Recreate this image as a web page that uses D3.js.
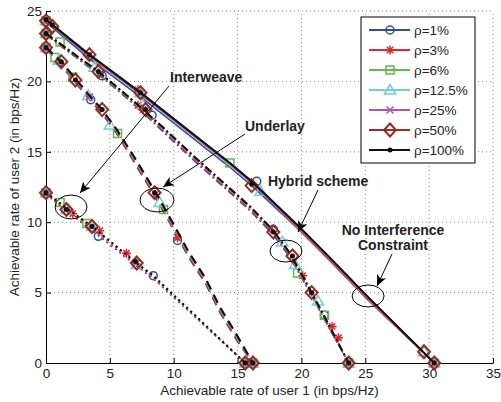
<!DOCTYPE html>
<html lang="en">
<head>
<meta charset="utf-8">
<title>Achievable rate region</title>
<script src="https://cdnjs.cloudflare.com/ajax/libs/d3/7.8.5/d3.min.js"></script>
<style>
    body { margin: 0; background: #fff; }
    svg { display: block; font-family: "Liberation Sans", Arial, sans-serif; }
    .grid line { stroke: #8a8a8a; stroke-width: 1; stroke-dasharray: 1,3; }
    .axis path, .axis line { stroke: #000; stroke-width: 1; }
    .axis text { font-size: 13.5px; fill: #222; }
    .anno { font-size: 14px; font-weight: bold; fill: #222; }
</style>
</head>
<body>
<svg id="chart" width="501" height="402"></svg>
<script>
    // legend entries, one per rho
    const rhoLabels = ['ρ=1%', 'ρ=3%', 'ρ=6%', 'ρ=12.5%', 'ρ=25%', 'ρ=50%', 'ρ=100%'];
    const rhoColors = ['#2f4da6', '#e8232b', '#5db948', '#6fcde3', '#b455a8', '#9c2b1b', '#111111'];
    const rhoMarkers = ['circle', 'star', 'square', 'triangle', 'cross', 'diamond', 'dot'];

    const xTicks = [0, 5, 10, 15, 20, 25, 30, 35];
    const yTicks = [0, 5, 10, 15, 20, 25];

    // No interference constraint (solid)
    const noIntX = [0, 3.4, 7.4, 14.4, 16.1, 19.9, 22.2, 25.2, 30.4];
    const noIntY = [
        [24.2, 21.6, 18.9, 13.9, 12.6, 9.4, 7.3, 4.5, 0],
        [24.3, 21.8, 19.1, 14.1, 12.8, 9.4, 7.3, 4.5, 0],
        [24.3, 21.8, 19.1, 14.1, 12.8, 9.5, 7.4, 4.6, 0],
        [24.3, 21.8, 19.1, 14.1, 12.8, 9.5, 7.4, 4.6, 0],
        [24.3, 21.8, 19.1, 14.1, 12.8, 9.5, 7.4, 4.6, 0],
        [24.3, 21.9, 19.2, 14.2, 12.9, 9.6, 7.5, 4.7, 0],
        [24.4, 21.9, 19.2, 14.2, 12.9, 9.6, 7.5, 4.7, 0]
    ];

    // Hybrid scheme (dash-dot)
    const hybridX = [0, 4.1, 6.6, 9.2, 11.8, 14.4, 16.0, 17.8, 19.1, 20.8, 21.8, 23.7];
    const hybridY = [
        [23.3, 20.5, 18.6, 16.4, 14.2, 12.1, 10.8, 9.1, 7.5, 4.8, 3.1, 0],
        [23.3, 20.6, 18.7, 16.5, 14.3, 12.2, 10.9, 9.2, 7.6, 4.8, 3.1, 0],
        [23.4, 20.6, 18.7, 16.6, 14.4, 12.3, 11.0, 9.3, 7.7, 4.9, 3.2, 0],
        [23.4, 20.7, 18.8, 16.6, 14.4, 12.3, 11.0, 9.3, 7.7, 4.9, 3.2, 0],
        [23.4, 20.7, 18.8, 16.6, 14.4, 12.3, 11.0, 9.3, 7.7, 4.9, 3.2, 0],
        [23.4, 20.7, 18.8, 16.7, 14.5, 12.4, 11.1, 9.4, 7.8, 5.0, 3.3, 0],
        [23.4, 20.7, 18.8, 16.7, 14.5, 12.4, 11.1, 9.4, 7.8, 5.0, 3.3, 0]
    ];

    // Underlay (dashed)
    const underlayX = [0, 1.2, 2.3, 3.4, 4.4, 5.6, 7.0, 8.6, 9.9, 11.1, 12.5, 13.6, 15.0, 16.2];
    const underlayY = [
        [22.3, 21.1, 19.9, 18.7, 17.7, 16.2, 14.1, 11.7, 9.6, 7.6, 5.6, 3.6, 1.5, 0],
        [22.3, 21.2, 20.0, 18.8, 17.8, 16.3, 14.2, 11.8, 9.7, 7.7, 5.7, 3.7, 1.6, 0],
        [22.4, 21.3, 20.1, 18.9, 17.9, 16.4, 14.3, 11.9, 9.8, 7.8, 5.8, 3.8, 1.7, 0],
        [22.4, 21.3, 20.1, 18.9, 17.9, 16.4, 14.4, 12.0, 9.9, 7.9, 5.9, 3.9, 1.8, 0],
        [22.4, 21.3, 20.1, 18.9, 17.9, 16.4, 14.4, 12.0, 9.9, 7.9, 5.9, 3.9, 1.8, 0],
        [22.4, 21.4, 20.2, 19.0, 18.0, 16.5, 14.5, 12.1, 10.0, 8.0, 6.0, 4.0, 1.9, 0],
        [22.4, 21.4, 20.2, 19.0, 18.0, 16.5, 14.5, 12.1, 10.0, 8.0, 6.0, 4.0, 1.9, 0]
    ];

    // Interweave (dotted)
    const interweaveX = [0, 1.6, 3.6, 7.1, 8.4, 15.6];
    const interweaveY = [
        [12.0, 10.8, 9.4, 6.9, 6.0, 0],
        [12.0, 10.8, 9.5, 6.9, 6.0, 0],
        [12.1, 10.9, 9.6, 7.0, 6.1, 0],
        [12.1, 10.9, 9.6, 7.0, 6.1, 0],
        [12.1, 10.9, 9.6, 7.0, 6.1, 0],
        [12.1, 11.0, 9.7, 7.1, 6.2, 0],
        [12.1, 11.0, 9.7, 7.1, 6.2, 0]
    ];

    // extra markers along the curves: [series, x, y]
    const noIntMarks = [
        [5, 0.5, 23.9], [6, 0.5, 24.0], [4, 3.4, 21.9], [5, 3.4, 21.9], [6, 3.4, 21.9],
        [1, 7.2, 19.4], [3, 7.4, 19.2], [5, 7.4, 19.2], [6, 7.4, 19.2], [2, 14.4, 14.2],
        [0, 16.5, 12.9], [5, 16.1, 12.6], [3, 16.8, 12.2], [6, 16.1, 12.7],
        [3, 29.6, 0.8], [5, 29.6, 0.8]
    ];
    const hybridMarks = [
        [2, 1.1, 22.8], [3, 3.8, 21.0], [5, 4.1, 20.7], [0, 4.4, 20.4], [6, 4.1, 20.7],
        [1, 7.2, 18.3], [1, 7.6, 18.0], [3, 7.6, 18.3], [5, 7.8, 18.0], [6, 7.8, 18.0], [0, 8.3, 17.6],
        [0, 17.8, 9.5], [5, 17.8, 9.3], [6, 17.8, 9.3], [3, 18.5, 8.6],
        [5, 19.3, 7.6], [6, 19.3, 7.6], [3, 19.5, 7.0], [2, 19.7, 6.4], [1, 20.1, 6.2],
        [4, 20.8, 5.0], [5, 20.8, 5.0], [6, 20.8, 5.0], [3, 21.3, 4.4],
        [0, 21.8, 3.4], [2, 21.8, 3.4], [1, 22.4, 2.6], [1, 22.9, 1.8]
    ];
    const underlayMarks = [
        [2, 0.7, 21.7], [3, 1.0, 21.5], [5, 1.2, 21.4], [6, 1.2, 21.4],
        [2, 2.1, 20.3], [5, 2.3, 20.1], [6, 2.3, 20.1],
        [3, 3.3, 19.0], [4, 3.4, 18.9], [0, 3.5, 18.7], [5, 4.4, 18.0], [6, 4.4, 18.0],
        [3, 5.0, 16.9], [2, 5.6, 16.3],
        [5, 8.5, 12.1], [4, 8.6, 12.0], [6, 8.5, 12.1], [3, 8.9, 11.4], [2, 9.2, 10.9],
        [1, 10.3, 8.9], [0, 10.3, 8.7]
    ];
    const interweaveMarks = [
        [2, 1.1, 11.4], [3, 1.6, 10.9], [4, 1.6, 10.9], [5, 1.6, 10.9], [6, 1.6, 10.9], [1, 2.1, 10.6],
        [2, 3.2, 9.9], [3, 3.6, 9.7], [4, 3.6, 9.7], [5, 3.6, 9.7], [6, 3.6, 9.7], [1, 4.2, 9.4], [0, 4.1, 9.0],
        [1, 6.3, 7.8], [3, 7.1, 7.0], [4, 7.1, 7.1], [5, 7.1, 7.1], [6, 7.0, 7.2], [0, 8.4, 6.2]
    ];

    // annotations (data units)
    const annoTexts = [
        ['Interweave', 9.71, 19.96, 'start'],
        ['Underlay', 15.58, 16.48, 'start'],
        ['Hybrid scheme', 17.38, 12.57, 'start'],
        ['No Interference', 27.17, 9.09, 'middle'],
        ['Constraint', 27.17, 8.0, 'middle']
    ];
    const annoArrows = [
        [9.63, 19.67, 2.66, 12.07],
        [15.58, 16.26, 9.16, 12.5],
        [21.3, 12.29, 19.73, 9.3],
        [27.09, 7.74, 25.92, 5.47]
    ];
    const annoEllipses = [
        [1.96, 11.08, 1.25, 0.85],
        [8.69, 11.58, 1.33, 0.85],
        [18.79, 7.95, 1.25, 0.78],
        [25.22, 4.76, 1.25, 0.78]
    ];

    const groups = [
        { xs: noIntX, ys: noIntY, marks: noIntMarks, dash: null },
        { xs: hybridX, ys: hybridY, marks: hybridMarks, dash: '8,3,2,3' },
        { xs: underlayX, ys: underlayY, marks: underlayMarks, dash: '9,6' },
        { xs: interweaveX, ys: interweaveY, marks: interweaveMarks, dash: '2,3.5' }
    ];

    const width = 501, height = 402;
    const margin = { top: 11, right: 8, bottom: 39, left: 46 };

    const svg = d3.select('#chart');

    const x = d3.scaleLinear().domain([0, 35]).range([margin.left, width - margin.right]);
    const y = d3.scaleLinear().domain([0, 25]).range([height - margin.bottom, margin.top]);

    // grid
    const grid = svg.append('g').attr('class', 'grid');
    grid.selectAll('.gx').data(xTicks.slice(1)).enter().append('line')
        .attr('x1', d => x(d)).attr('x2', d => x(d))
        .attr('y1', y(0)).attr('y2', y(25));
    grid.selectAll('.gy').data(yTicks.slice(1)).enter().append('line')
        .attr('x1', x(0)).attr('x2', x(35))
        .attr('y1', d => y(d)).attr('y2', d => y(d));

    // axes, ticks pointing inward
    svg.append('g').attr('class', 'axis')
        .attr('transform', `translate(0,${y(0)})`)
        .call(d3.axisBottom(x).tickValues(xTicks).tickSizeInner(-5).tickSizeOuter(0).tickPadding(5));
    svg.append('g').attr('class', 'axis')
        .attr('transform', `translate(${x(0)},0)`)
        .call(d3.axisLeft(y).tickValues(yTicks).tickSizeInner(-5).tickSizeOuter(0).tickPadding(4));

    svg.append('text')
        .attr('x', (x(0) + x(35)) / 2).attr('y', 395)
        .attr('text-anchor', 'middle').attr('font-size', '13.5px').attr('fill', '#222')
        .text('Achievable rate of user 1 (in bps/Hz)');
    svg.append('text')
        .attr('transform', `translate(19,${(y(0) + y(25)) / 2}) rotate(-90)`)
        .attr('text-anchor', 'middle').attr('font-size', '13.5px').attr('fill', '#222')
        .text('Achievable rate of user 2 (in bps/Hz)');

    function drawMarker(sel, type, color) {
        const s = sel.append('path').attr('fill', 'none').attr('stroke', color).attr('stroke-width', 1.5);
        switch (type) {
            case 'circle': s.attr('d', d3.arc()({ innerRadius: 0, outerRadius: 4, startAngle: 0, endAngle: 2 * Math.PI })); break;
            case 'star': s.attr('d', 'M-4.5,0H4.5M0,-4.5V4.5M-3.2,-3.2L3.2,3.2M-3.2,3.2L3.2,-3.2'); break;
            case 'square': s.attr('d', 'M-4,-4H4V4H-4Z'); break;
            case 'triangle': s.attr('d', 'M0,-5.5L5.5,4H-5.5Z'); break;
            case 'cross': s.attr('d', 'M-3.5,-3.5L3.5,3.5M-3.5,3.5L3.5,-3.5'); break;
            case 'diamond': s.attr('d', 'M0,-6.5L6,0L0,6.5L-6,0Z').attr('stroke-width', 2); break;
            case 'dot': s.attr('d', d3.arc()({ innerRadius: 0, outerRadius: 2.5, startAngle: 0, endAngle: 2 * Math.PI }))
                .attr('fill', color).attr('stroke', 'none'); break;
        }
    }

    const lineGen = d3.line().x(d => x(d[0])).y(d => y(d[1]));
    const plot = svg.append('g');

    rhoLabels.forEach((label, i) => {
        const color = rhoColors[i];
        groups.forEach(g => {
            const pts = g.xs.map((v, k) => [v, g.ys[i][k]]);
            plot.append('path')
                .attr('d', lineGen(pts))
                .attr('fill', 'none')
                .attr('stroke', color)
                .attr('stroke-width', i === 6 ? 2 : 1.5)
                .attr('stroke-dasharray', g.dash);
        });
        groups.forEach(g => {
            const pts = [[g.xs[0], g.ys[i][0]], [g.xs[g.xs.length - 1], g.ys[i][g.ys[i].length - 1]]]
                .concat(g.marks.filter(m => m[0] === i).map(m => [m[1], m[2]]));
            pts.forEach(p => {
                const m = plot.append('g').attr('transform', `translate(${x(p[0])},${y(p[1])})`);
                drawMarker(m, rhoMarkers[i], color);
            });
        });
    });

    // annotations
    svg.append('defs').append('marker')
        .attr('id', 'arrow').attr('markerUnits', 'userSpaceOnUse')
        .attr('markerWidth', 12).attr('markerHeight', 10)
        .attr('refX', 11).attr('refY', 5).attr('orient', 'auto')
        .append('path').attr('d', 'M0,0L11,5L0,10L3,5Z').attr('fill', '#000');

    const anno = svg.append('g');
    annoEllipses.forEach(e => {
        anno.append('ellipse')
            .attr('cx', x(e[0])).attr('cy', y(e[1]))
            .attr('rx', x(e[2]) - x(0)).attr('ry', y(0) - y(e[3]))
            .attr('fill', 'none').attr('stroke', '#000').attr('stroke-width', 1);
    });
    annoArrows.forEach(a => {
        anno.append('line')
            .attr('x1', x(a[0])).attr('y1', y(a[1]))
            .attr('x2', x(a[2])).attr('y2', y(a[3]))
            .attr('stroke', '#000').attr('stroke-width', 1)
            .attr('marker-end', 'url(#arrow)');
    });
    annoTexts.forEach(t => {
        anno.append('text').attr('class', 'anno')
            .attr('x', x(t[1])).attr('y', y(t[2]))
            .attr('text-anchor', t[3])
            .text(t[0]);
    });

    // legend
    const legend = svg.append('g').attr('transform', 'translate(361,17)');
    legend.append('rect').attr('width', 114).attr('height', 146)
        .attr('fill', '#fff').attr('stroke', '#000').attr('stroke-width', 1);
    rhoLabels.forEach((label, i) => {
        const row = legend.append('g').attr('transform', `translate(0,${13 + i * 20})`);
        row.append('line').attr('x1', 8).attr('x2', 49)
            .attr('stroke', rhoColors[i]).attr('stroke-width', 2);
        drawMarker(row.append('g').attr('transform', 'translate(29,0)'), rhoMarkers[i], rhoColors[i]);
        row.append('text').attr('x', 53).attr('y', 5)
            .attr('font-size', '13.5px').attr('fill', '#222')
            .text(label);
    });
</script>
</body>
</html>
